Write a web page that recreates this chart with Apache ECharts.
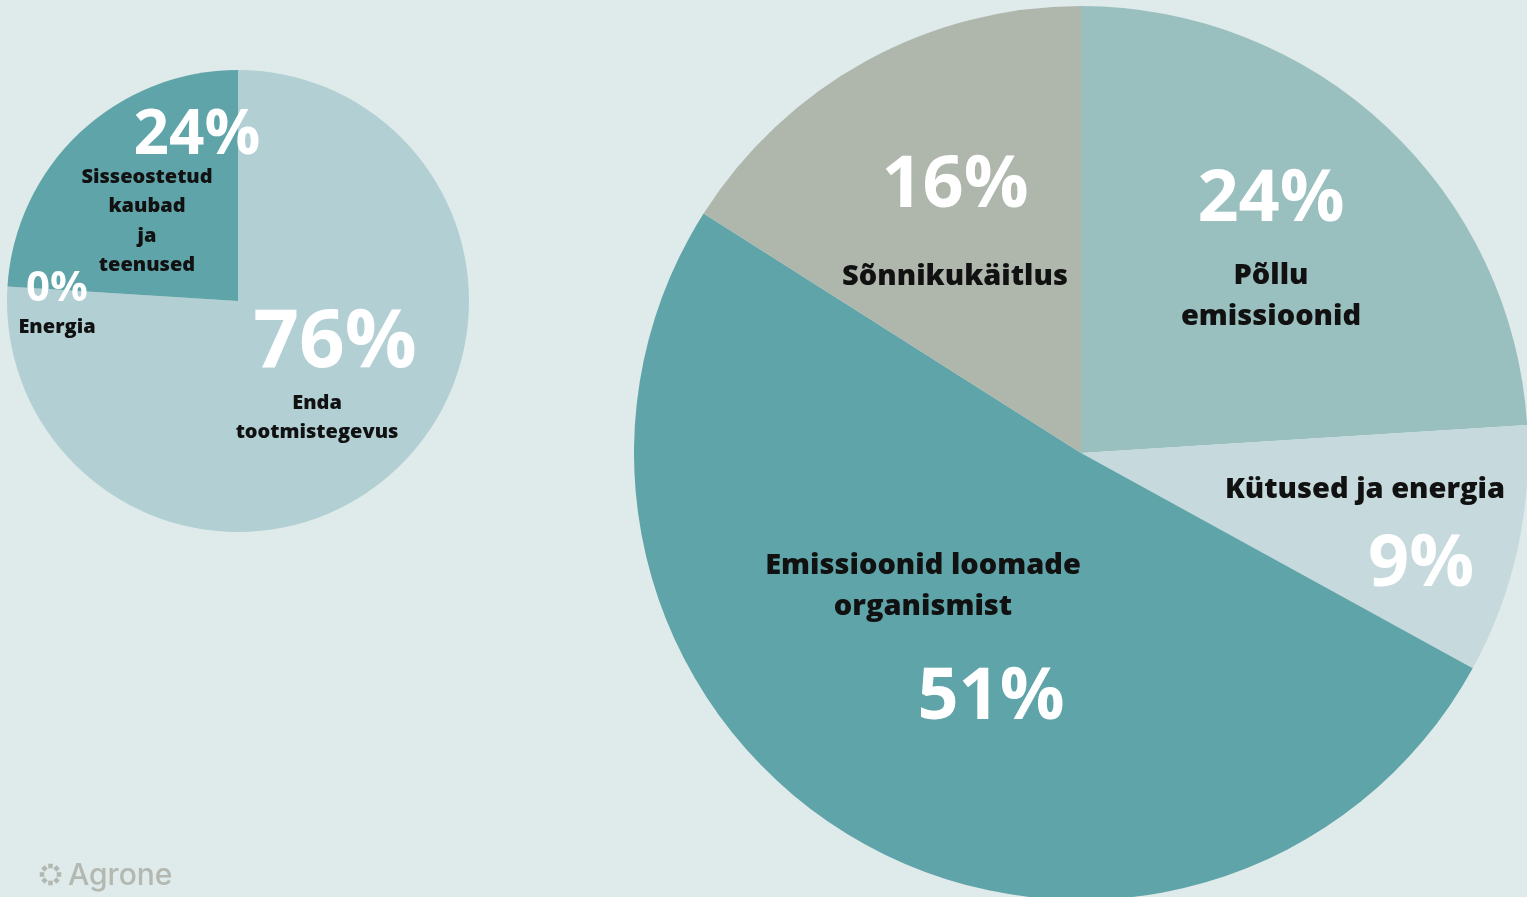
<!DOCTYPE html>
<html style="height: 100%">
<head>
    <meta charset="utf-8">
    <title>Heitkoguste jaotus</title>
    <script src="https://cdn.jsdelivr.net/npm/echarts@6/dist/echarts.min.js"></script>
</head>
<body style="height: 100%; margin: 0">
<div id="container" style="height: 100%"></div>
<script type="text/javascript">
// small pie (clockwise from 12 o'clock)
var smallNames = ['Enda\ntootmistegevus', 'Energia', 'Sisseostetud\nkaubad\nja\nteenused'];
var smallValues = [76, 0, 24];
var smallColors = ['#b2cfd3', '#b2cfd3', '#5fa4a8'];

// big pie (clockwise from 12 o'clock)
var bigNames = ['Põllu\nemissioonid', 'Kütused ja energia', 'Emissioonid loomade\norganismist', 'Sõnnikukäitlus'];
var bigValues = [24, 9, 51, 16];
var bigColors = ['#99bfbe', '#c6d9dc', '#5fa4a8', '#afb7ac'];

// label placement: anchor x/y, percent size, percent line height, shift of percent, percent first?
var smallLabels = [
    {x: 317, y: 374, ps: 80, pl: 88, shift: 18, top: true},
    {x: 57, y: 304, ps: 42, pl: 46, shift: 0, top: true},
    {x: 147, y: 195, ps: 62, pl: 53, shift: 50, top: true}
];
var bigLabels = [
    {x: 1271, y: 241, ps: 72, pl: 111, shift: 0, top: true},
    {x: 1365, y: 545, ps: 72, pl: 111, shift: 56, top: false},
    {x: 923, y: 657, ps: 72, pl: 141, shift: 68, top: false},
    {x: 955, y: 207, ps: 72, pl: 139, shift: 0, top: true}
];

function makeData(names, values, colors, labels, nameSize, nameLine) {
    return names.map(function (name, i) {
        var l = labels[i];
        var pct = '{p|' + values[i] + '%}';
        var nm = name.split('\n').map(function (s) { return '{n|' + s + '}'; }).join('\n');
        return {
            name: name,
            value: values[i],
            itemStyle: {color: colors[i]},
            label: {
                formatter: l.top ? pct + '\n' + nm : nm + '\n' + pct,
                rich: {
                    p: {
                        fontFamily: 'Open Sans',
                        fontWeight: 'bold',
                        fontSize: l.ps,
                        lineHeight: l.pl,
                        color: '#ffffff',
                        padding: [0, 0, 0, l.shift * 2]
                    },
                    n: {
                        fontFamily: 'Open Sans',
                        fontWeight: 800,
                        fontSize: nameSize,
                        lineHeight: nameLine,
                        color: '#111111'
                    }
                }
            }
        };
    });
}

function placeLabel(labels) {
    return function (params) {
        var l = labels[params.dataIndex];
        return {x: l.x, y: l.y, align: 'center', verticalAlign: 'middle'};
    };
}

var dom = document.getElementById('container');
var myChart = echarts.init(dom);

var logoDots = [];
for (var k = 0; k < 8; k++) {
    var a = k * Math.PI / 4;
    logoDots.push({
        type: 'rect',
        x: 50.5 + Math.cos(a) * 8.5,
        y: 874.5 + Math.sin(a) * 8.5,
        rotation: -a,
        shape: {x: -2.3, y: -2.3, width: 4.6, height: 4.6},
        style: {fill: '#b3b8b1'}
    });
}

var option = {
    backgroundColor: '#dfeaea',
    animation: false,
    graphic: logoDots.concat([{
        type: 'text',
        left: 68,
        top: 861,
        style: {
            text: 'Agrone',
            fill: '#b3b8b1',
            font: '500 30px Inter'
        }
    }]),
    series: [
        {
            type: 'pie',
            center: [238, 301],
            radius: 231,
            startAngle: 90,
            clockwise: true,
            silent: true,
            emphasis: {disabled: true},
            label: {show: true, position: 'inside'},
            labelLine: {show: false},
            labelLayout: placeLabel(smallLabels),
            data: makeData(smallNames, smallValues, smallColors, smallLabels, 20, 29.5)
        },
        {
            type: 'pie',
            center: [1081, 453],
            radius: 447,
            startAngle: 90,
            clockwise: true,
            silent: true,
            emphasis: {disabled: true},
            label: {show: true, position: 'inside'},
            labelLine: {show: false},
            labelLayout: placeLabel(bigLabels),
            data: makeData(bigNames, bigValues, bigColors, bigLabels, 29, 41)
        }
    ]
};

myChart.setOption(option);
</script>
</body>
</html>
